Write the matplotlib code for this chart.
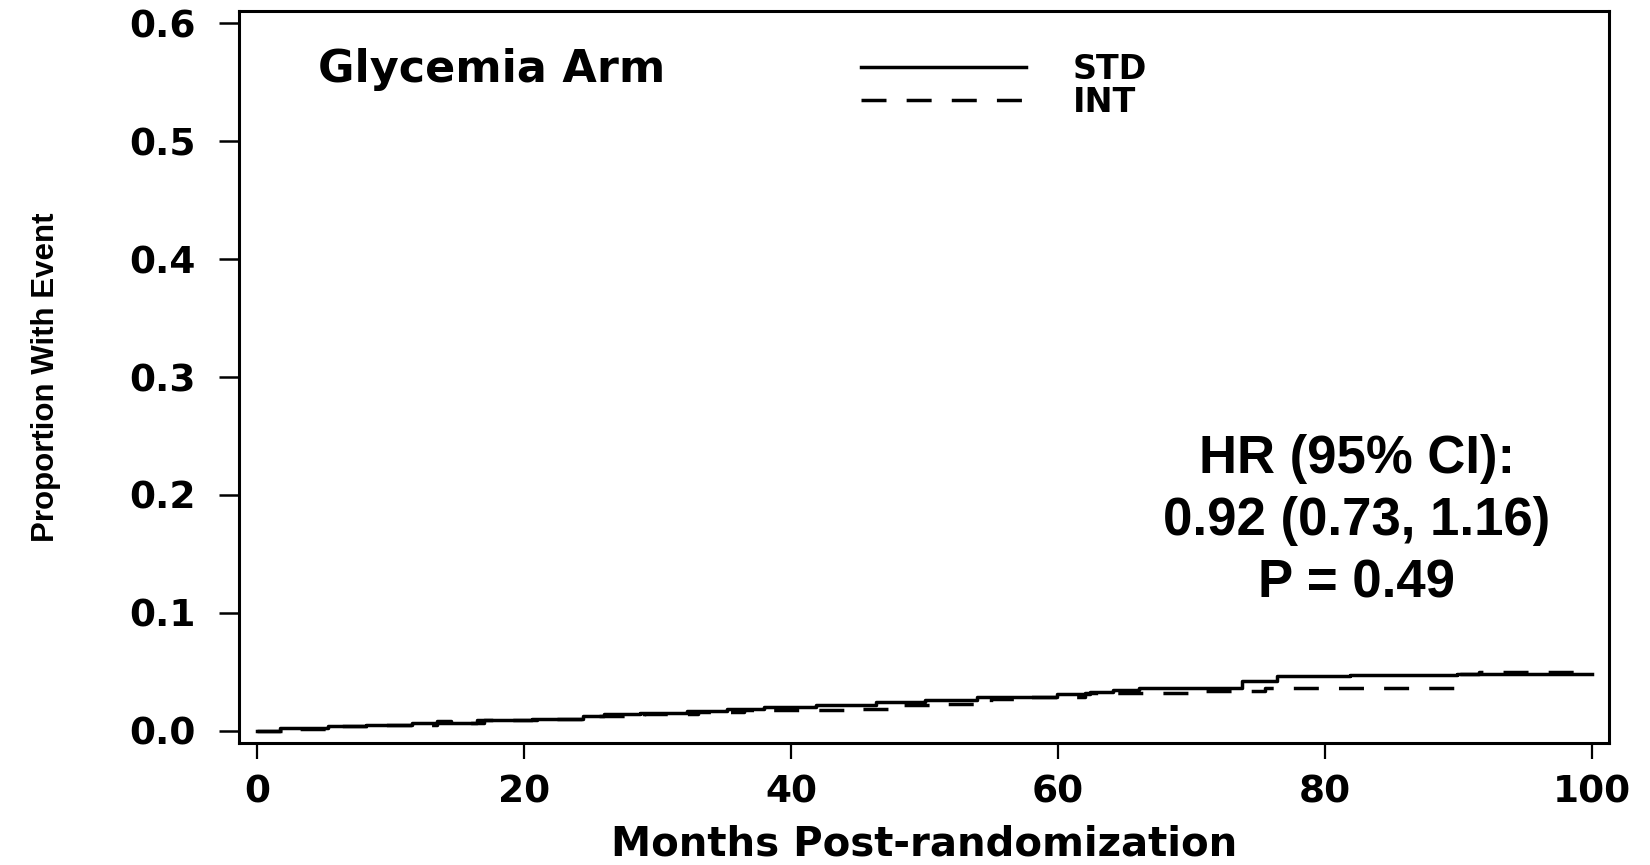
import matplotlib
matplotlib.use("Agg")
import matplotlib.pyplot as plt

# ---- data ----
std_t = [0, 1.7, 5.3, 8.2, 11.6, 16.5, 20.6, 24.4, 26, 28.7, 32.2, 35.2, 38,
         41.9, 46.4, 50, 53.9, 59.9, 62.4, 64.1, 66.1, 73.8, 76.4, 81.9, 89.9, 100]
std_v = [0, 0.0023, 0.0042, 0.0050, 0.0065, 0.0090, 0.0105, 0.0125, 0.0140,
         0.0155, 0.0170, 0.0185, 0.0200, 0.0220, 0.0245, 0.0260, 0.0285, 0.0310,
         0.0330, 0.0350, 0.0360, 0.0420, 0.0463, 0.0475, 0.0480, 0.0480]

int_t = [0, 2, 6, 9, 13.5, 14.5, 17, 21, 25, 29, 33, 36.5, 40, 44, 48, 51.5,
         55, 58, 62, 66, 70, 75.5, 89.8, 91.5, 100]
int_v = [0, 0.0020, 0.0040, 0.0050, 0.0085, 0.0070, 0.0090, 0.0105, 0.0125,
         0.0145, 0.0160, 0.0175, 0.0178, 0.0190, 0.0220, 0.0226, 0.0268, 0.0285,
         0.0320, 0.0320, 0.0340, 0.0367, 0.0485, 0.0500, 0.0500]

series_labels = ["STD", "INT"]
x_ticks = [0, 20, 40, 60, 80, 100]
y_ticks = [0.0, 0.1, 0.2, 0.3, 0.4, 0.5, 0.6]
x_label = "Months Post-randomization"
y_label = "Proportion With Event"
legend_title = "Glycemia Arm"
hr_text = "HR (95% CI):\n0.92 (0.73, 1.16)\nP = 0.49"

# ---- figure ----
W, H = 1650, 865
fig = plt.figure(figsize=(W / 100, H / 100), dpi=100)
ax = fig.add_axes([239 / W, 1 - 743 / H, 1370 / W, 732 / H])
ax.set_xlim(-1.35, 101.27)
ax.set_ylim(-0.0102, 0.6102)

lw = 2.5
ax.step(std_t, std_v, where="post", color="black", lw=lw, label=series_labels[0])
ax.step(int_t, int_v, where="post", color="black", lw=lw, dashes=(7.2, 5.8),
        label=series_labels[1])

for s in ax.spines.values():
    s.set_linewidth(2.2)
    s.set_color("black")

ax.set_xticks(x_ticks)
ax.set_xticklabels([str(v) for v in x_ticks])
ax.set_yticks(y_ticks)
ax.set_yticklabels([f"{v:.1f}" for v in y_ticks])
ax.tick_params(axis="x", length=11.5, width=1.6, pad=11, direction="out")
ax.tick_params(axis="y", length=14.5, width=1.8, pad=16.5, direction="out")
for lab in ax.get_xticklabels() + ax.get_yticklabels():
    lab.set_fontfamily("DejaVu Sans")
    lab.set_fontweight("bold")
    lab.set_fontsize(27)

ax.set_ylabel(y_label, family="Liberation Sans", fontweight="bold", fontsize=22.5)
ax.yaxis.set_label_coords(-(239 - 61) / 1370, 0.5)

fig.text(0.5 * (239 + 1609) / W, 1 - 856 / H, x_label, ha="center", va="baseline",
         family="DejaVu Sans", fontweight="bold", fontsize=29)

ax.text((318 - 239) / 1370, 1 - (82 - 11) / 732, legend_title, transform=ax.transAxes,
        ha="left", va="baseline", family="DejaVu Sans", fontweight="bold", fontsize=32)

fs_leg = 24
px_per_em = fs_leg * 100 / 72
leg = ax.legend(loc="center left", bbox_to_anchor=(861 / W, 1 - 86 / H),
                bbox_transform=fig.transFigure, frameon=False,
                handlelength=165 / px_per_em, handletextpad=47 / px_per_em,
                labelspacing=0.0, borderpad=0, borderaxespad=0,
                prop={"family": "DejaVu Sans", "weight": "bold", "size": fs_leg})

ax.text((1357 - 239) / 1370, 1 - (521 - 11) / 732, hr_text, transform=ax.transAxes,
        ha="center", va="center", multialignment="center", linespacing=1.32,
        family="Liberation Sans", fontweight="bold", fontsize=38)

fig.savefig("out.png", dpi=100)
